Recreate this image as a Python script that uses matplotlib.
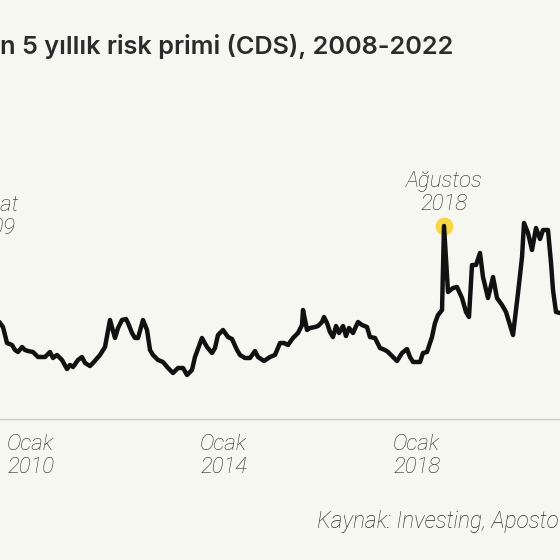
import matplotlib
matplotlib.use('Agg')
import matplotlib.pyplot as plt

# Turkey 5y CDS (bps); x in decimal years
years = [2009.855, 2009.917, 2010.000, 2010.104, 2010.166, 2010.228, 2010.311, 2010.373,
         2010.435, 2010.539, 2010.642, 2010.788, 2010.891, 2010.953, 2011.036, 2011.140,
         2011.244, 2011.306, 2011.368, 2011.472, 2011.554, 2011.617, 2011.720, 2011.782,
         2011.927, 2012.031, 2012.135, 2012.238, 2012.301, 2012.383, 2012.466, 2012.508,
         2012.591, 2012.653, 2012.715, 2012.819, 2012.902, 2012.964, 2013.026, 2013.130,
         2013.233, 2013.337, 2013.440, 2013.544, 2013.648, 2013.731, 2013.834, 2013.896,
         2014.041, 2014.145, 2014.249, 2014.311, 2014.373, 2014.477, 2014.580, 2014.663,
         2014.767, 2014.829, 2014.933, 2015.036, 2015.140, 2015.202, 2015.326, 2015.450,
         2015.554, 2015.658, 2015.741, 2015.824, 2015.927, 2016.031, 2016.114, 2016.135,
         2016.218, 2016.280, 2016.383, 2016.446, 2016.528, 2016.570, 2016.632, 2016.694,
         2016.756, 2016.819, 2016.881, 2016.964, 2017.026, 2017.088, 2017.171, 2017.275,
         2017.358, 2017.461, 2017.523, 2017.627, 2017.731, 2017.834, 2017.896, 2018.000,
         2018.083, 2018.187, 2018.290, 2018.352, 2018.415, 2018.560, 2018.622, 2018.705,
         2018.808, 2018.870, 2018.933, 2019.016, 2019.057, 2019.140, 2019.244, 2019.326,
         2019.430, 2019.513, 2019.575, 2019.637, 2019.720, 2019.803, 2019.865, 2019.969,
         2020.073, 2020.155, 2020.259, 2020.342, 2020.404, 2020.487, 2020.591, 2020.674,
         2020.715, 2020.798, 2020.881, 2020.964, 2021.047, 2021.109, 2021.212, 2021.275,
         2021.316, 2021.378, 2021.461]
cds = [288, 276, 228, 222, 207, 201, 216, 207, 204, 201, 186, 186, 201, 183, 192, 177,
       150, 162, 156, 177, 186, 168, 159, 168, 192, 216, 297, 243, 273, 297, 300, 288,
       258, 243, 243, 297, 267, 207, 192, 177, 171, 153, 138, 153, 153, 132, 147, 186,
       243, 216, 198, 213, 252, 267, 246, 240, 207, 192, 183, 183, 204, 186, 174, 186,
       192, 228, 228, 222, 243, 258, 282, 327, 267, 273, 276, 279, 291, 306, 288, 261,
       246, 279, 258, 279, 249, 273, 258, 291, 282, 276, 246, 243, 213, 207, 201, 186,
       174, 198, 210, 186, 171, 171, 198, 201, 246, 288, 312, 327, 579, 381, 393, 396,
       363, 321, 306, 462, 462, 498, 426, 363, 426, 363, 342, 321, 291, 252, 378, 486,
       588, 558, 507, 573, 540, 567, 567, 468, 387, 321, 318]

tick_years = [2010, 2014, 2018]
tick_labels = ['Ocak\n2010', 'Ocak\n2014', 'Ocak\n2018']

BG = '#F7F7F2'
TXT = '#2b2b2b'
ITAL = dict(fontsize=16, fontfamily='Roboto', fontweight='light', style='italic', color=TXT)

fig = plt.figure(figsize=(5.6, 5.6), dpi=100, facecolor=BG)
ax = fig.add_axes([0, 141 / 560, 1, 320 / 560])
ax.set_facecolor(BG)

ax.plot(years, cds, color='#111111', lw=3.2, solid_joinstyle='round', zorder=3)

# highlight the August 2018 spike
i_peak = max(range(len(years)), key=lambda i: cds[i] if years[i] < 2020 else -1)
ax.scatter([years[i_peak]], [cds[i_peak]], s=140, color='#F6D847', zorder=2)
ax.annotate('Ağustos\n2018', xy=(years[i_peak], cds[i_peak]), xytext=(0, 8),
            textcoords='offset points', ha='center', va='bottom',
            linespacing=1.1, **ITAL)
ax.text(2009.68, 540, 'Şubat\n2009', ha='center', va='bottom',
        linespacing=1.1, clip_on=False, **ITAL)

ax.set_xlim(2009.855, 2021.461)
ax.set_ylim(0, 960)
ax.set_yticks([])
ax.set_xticks(tick_years)
ax.set_xticklabels(tick_labels, ha='left', linespacing=1.1, **ITAL)
ax.tick_params(axis='x', length=0, pad=11)
for s in ['top', 'left', 'right']:
    ax.spines[s].set_visible(False)
ax.spines['bottom'].set_color('#cccccc')
ax.spines['bottom'].set_linewidth(1)

fig.text(0, 1 - 54 / 560, 'n 5 yıllık risk primi (CDS), 2008-2022', ha='left',
         va='baseline', fontsize=18.2, fontfamily='Inter', fontweight='semibold', color=TXT)
fig.text(317 / 560, 1 - 528 / 560, 'Kaynak: Investing, Aposto', ha='left',
         va='baseline', fontsize=16.3, fontfamily='Roboto', fontweight='light',
         style='italic', color=TXT)

plt.savefig('out.png', dpi=100, facecolor=BG)
plt.close()
